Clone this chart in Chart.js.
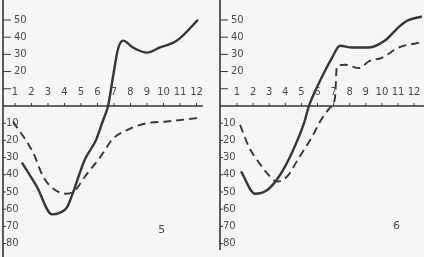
<!DOCTYPE html>
<html>
<head>
<meta charset="utf-8">
<script src="https://cdn.jsdelivr.net/npm/chart.js@4/dist/chart.umd.min.js"></script>
<style>
  html, body { margin: 0; padding: 0; background: #f6f6f4; }
  #wrap { position: relative; width: 424px; height: 257px; }
  .panel { position: absolute; top: 0; width: 212px; height: 257px; }
</style>
</head>
<body>
<div id="wrap">
  <div class="panel" style="left:0"><canvas id="chartLeft"></canvas></div>
  <div class="panel" style="left:212px"><canvas id="chartRight"></canvas></div>
</div>
<script>
// month labels along the zero line
var months = [1, 2, 3, 4, 5, 6, 7, 8, 9, 10, 11, 12];
var upTicks = [10, 20, 30, 40, 50];
var downTicks = [-10, -20, -30, -40, -50, -60, -70, -80];

// panel 5 (left)
var leftSolidX = [1.42, 2.33, 3.24, 3.73, 4.15, 4.45, 5.24, 5.9, 6.35, 6.64, 6.94, 7.24, 7.55, 8.15, 9.0, 9.79, 10.82, 12.09];
var leftSolidY = [-33, -47, -63, -62, -59, -52, -31, -20, -8, 0, 17, 33, 38, 34, 31, 34, 38, 50];
var leftDashX = [0.88, 2.09, 2.7, 3.3, 4.15, 4.64, 5.24, 6.15, 6.94, 7.79, 9.0, 10.21, 12.09];
var leftDashY = [-9, -27, -41, -48, -51, -49, -41, -30, -19, -14, -10, -9, -7];

// panel 6 (right)
var rightSolidX = [1.25, 2.12, 2.86, 3.61, 4.42, 5.16, 5.47, 6.28, 6.9, 7.4, 8.14, 9.2, 10.19, 11.06, 11.68, 12.49];
var rightSolidY = [-38, -51, -49, -41, -27, -10, 0, 17, 28, 35, 34, 34, 38, 46, 50, 52];
var rightDashX = [1.19, 1.75, 2.37, 3.05, 3.48, 4.11, 4.85, 5.66, 6.16, 6.78, 7.09, 7.2, 7.71, 8.58, 9.2, 10.0, 11.06, 12.49];
var rightDashY = [-11, -24, -33, -41, -44, -41, -30, -18, -9, -1, 5, 23, 24, 22, 26, 28, 34, 37];

function pts(xs, ys) {
  return xs.map(function (x, i) { return {x: x, y: ys[i]}; });
}

var ink = '#363636';
var textInk = '#4a4a4a';

// draws the hand-drawn style axes through the chart's own scales
var axesPlugin = {
  id: 'paperAxes',
  afterDatasetsDraw: function (chart, args, opts) {
    var ctx = chart.ctx, xs = chart.scales.x, ys = chart.scales.y;
    var ax = xs.getPixelForValue(opts.axisAt);
    var zero = ys.getPixelForValue(0);
    ctx.save();
    ctx.strokeStyle = ink;
    ctx.lineWidth = 1.6;
    ctx.beginPath();
    ctx.moveTo(ax, 0);
    ctx.lineTo(ax, opts.axisBottom);
    ctx.moveTo(ax, zero);
    ctx.lineTo(xs.getPixelForValue(opts.lineEnd), zero);
    ctx.stroke();

    ctx.lineWidth = 1;
    ctx.fillStyle = textInk;
    ctx.font = '10px "DejaVu Sans"';
    ctx.textBaseline = 'middle';
    // month ticks and labels
    ctx.textAlign = 'center';
    months.forEach(function (m) {
      var px = xs.getPixelForValue(m);
      ctx.beginPath();
      ctx.moveTo(px, zero - 3);
      ctx.lineTo(px, zero);
      ctx.stroke();
      ctx.fillText(String(m), px, zero - 14);
    });
    // value ticks
    ctx.textAlign = 'left';
    upTicks.forEach(function (v) {
      var py = ys.getPixelForValue(v);
      ctx.beginPath();
      ctx.moveTo(ax, py);
      ctx.lineTo(ax + 8, py);
      ctx.stroke();
      if (v > 10) ctx.fillText(String(v), ax + 11, py);
    });
    downTicks.forEach(function (v) {
      var py = ys.getPixelForValue(v);
      ctx.beginPath();
      ctx.moveTo(ax, py);
      ctx.lineTo(ax + 3, py);
      ctx.stroke();
      ctx.fillText(String(-v), ax + 3, py);
    });
    // panel number
    ctx.font = '11px "DejaVu Sans"';
    ctx.textAlign = 'center';
    ctx.fillText(opts.name, xs.getPixelForValue(opts.nameAt[0]), ys.getPixelForValue(opts.nameAt[1]));
    ctx.restore();
  }
};

function makeChart(id, solid, dashed, xMin, xMax, axisOpts) {
  return new Chart(document.getElementById(id), {
    type: 'line',
    data: {
      datasets: [
        {data: solid, borderColor: ink, borderWidth: 2.4, pointRadius: 0, cubicInterpolationMode: 'monotone'},
        {data: dashed, borderColor: ink, borderWidth: 1.9, borderDash: [8, 5], pointRadius: 0, cubicInterpolationMode: 'monotone'}
      ]
    },
    options: {
      responsive: true,
      maintainAspectRatio: false,
      animation: false,
      layout: {padding: 0},
      plugins: {legend: {display: false}, tooltip: {enabled: false}, paperAxes: axisOpts},
      scales: {
        x: {type: 'linear', min: xMin, max: xMax, display: false},
        y: {type: 'linear', min: -87.8, max: 61.6, display: false}
      }
    },
    plugins: [axesPlugin]
  });
}

makeChart('chartLeft', pts(leftSolidX, leftSolidY), pts(leftDashX, leftDashY), 0.09, 12.94,
  {axisAt: 0.27, lineEnd: 12.39, axisBottom: 257, name: '5', nameAt: [9.9, -72]});
makeChart('chartRight', pts(rightSolidX, rightSolidY), pts(rightDashX, rightDashY), -0.553, 12.615,
  {axisAt: -0.056, lineEnd: 12.615, axisBottom: 250, name: '6', nameAt: [10.9, -70]});
</script>
</body>
</html>
